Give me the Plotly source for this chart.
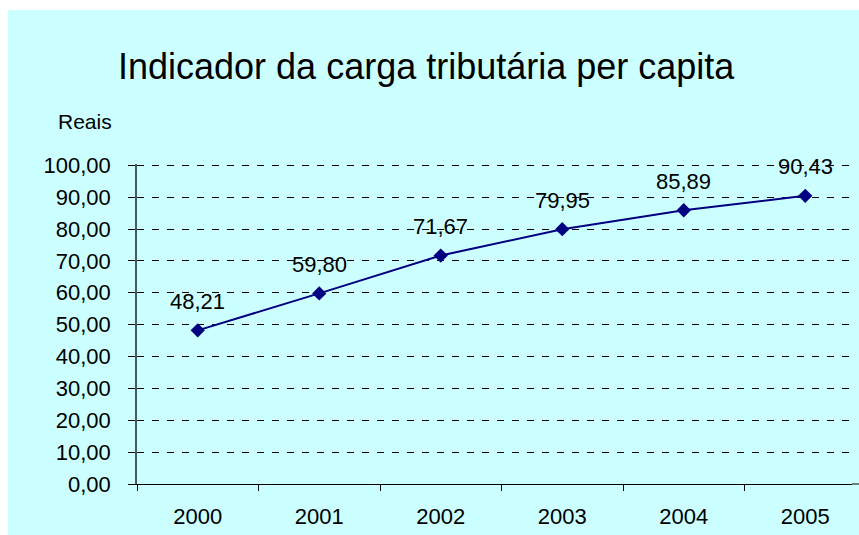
import plotly.graph_objects as go

# Indicador da carga tributária per capita (R$)
anos = ["2000", "2001", "2002", "2003", "2004", "2005"]
valores = [48.21, 59.80, 71.67, 79.95, 85.89, 90.43]
y_ticks = [0, 10, 20, 30, 40, 50, 60, 70, 80, 90, 100]

W, H = 859, 535
L, R, T, B = 137, 7, 164, 51
PW, PH = W - L - R, H - T - B
FONT = "Liberation Sans, Arial, sans-serif"


def px_x(x):
    return (x - L) / PW


def px_y(y):
    return (H - B - y) / PH


fig = go.Figure()
fig.add_trace(go.Scatter(
    x=anos, y=valores, mode="lines+markers",
    line=dict(color="#000080", width=2),
    marker=dict(symbol="diamond", size=11, color="#000080"),
    hoverinfo="skip", cliponaxis=False,
))

# value labels above each point (x given as category index)
for i, v in enumerate(valores):
    fig.add_annotation(
        x=i, y=v, xref="x", yref="y",
        text=f"{v:.2f}".replace(".", ","),
        showarrow=False, yshift=29, yanchor="middle", xanchor="center",
        font=dict(family=FONT, size=22, color="black"),
    )

fig.add_annotation(
    text="Indicador da carga tributária per capita",
    xref="paper", yref="paper", x=px_x(426.5), y=px_y(66),
    xanchor="center", yanchor="middle", showarrow=False,
    font=dict(family=FONT, size=36, color="black"),
)
fig.add_annotation(
    text="Reais", xref="paper", yref="paper", x=px_x(114), y=px_y(121),
    xanchor="right", yanchor="middle", showarrow=False,
    font=dict(family=FONT, size=21, color="black"),
)

# white border strips outside the chart area
fig.add_shape(type="rect", xref="paper", yref="paper",
              x0=px_x(-5), x1=px_x(8), y0=px_y(H + 5), y1=px_y(-5),
              fillcolor="white", line_width=0, layer="above")
fig.add_shape(type="rect", xref="paper", yref="paper",
              x0=px_x(-5), x1=px_x(W + 5), y0=px_y(10), y1=px_y(-5),
              fillcolor="white", line_width=0, layer="above")
# category axis continues to the edge
fig.add_shape(type="line", xref="paper", yref="paper",
              x0=1, x1=px_x(W + 2), y0=0, y1=0,
              line=dict(color="black", width=1), layer="above")

fig.update_layout(
    width=W, height=H,
    margin=dict(l=L, r=R, t=T, b=B, pad=0),
    paper_bgcolor="#CCFFFF", plot_bgcolor="#CCFFFF",
    showlegend=False, separators=",.",
    font=dict(family=FONT, size=22, color="black"),
)
fig.update_xaxes(
    type="category", range=[-0.5, -0.5 + PW / 121.5],
    showgrid=False, showline=True, linecolor="black", linewidth=1,
    ticks="outside", tickson="boundaries", ticklen=6, tickcolor="black",
    tickfont=dict(family=FONT, size=22), ticklabelstandoff=13,
    zeroline=False,
)
fig.update_yaxes(
    range=[0, 100.4], tickvals=y_ticks, tickformat=".2f",
    showgrid=True, gridcolor="black", gridwidth=1, griddash="7px,8px",
    showline=True, linecolor="#4a5a5a", linewidth=1.5,
    ticks="outside", ticklen=7, tickcolor="black",
    tickfont=dict(family=FONT, size=22), ticklabelstandoff=13,
    zeroline=False,
)

fig.write_html("out.html")
